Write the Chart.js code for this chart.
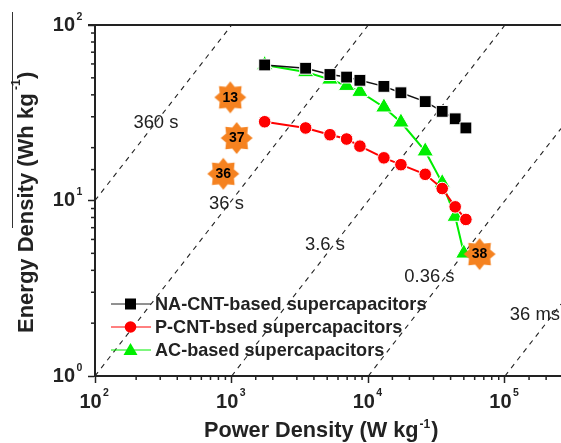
<!DOCTYPE html>
<html><head><meta charset="utf-8">
<style>html,body{margin:0;padding:0;background:#fff}canvas{display:block}</style>
<script src="https://cdn.jsdelivr.net/npm/chart.js@4"></script>
</head><body><canvas id="c" width="561" height="443"></canvas>
<script>
const powerDensity = [1744,3478,5238,6937,8679,13002,17320,26080,34720,43220,51760];
const naCnt = [59.2,56.7,52.2,50.5,48.4,44.7,41.1,36.6,32.2,29.2,25.9];
const pCnt = [28.1,25.9,23.7,22.4,20.4,17.5,16.0,14.1,11.7,9.2,7.8];
const acPower = [1744,3478,5238,6937,8679,13002,17320,26080,34720,43220,50000];
const ac = [59.2,54.0,49.0,45.1,41.7,34.0,27.9,19.1,12.6,8.1,5.0];
const seriesNames = ['NA-CNT-based supercapacitors','P-CNT-bsed supercapacitors','AC-based supercapacitors'];
const starLabels = ['13','37','36','38'];
const starPower = [977,1088,868,65200];
const starEnergy = [38.7,22.7,14.2,4.95];
const line360s = [[100,10],[1000,100]];
const line36s = [[100,1],[10000,100]];
const line3p6s = [[1000,1],[100000,100]];
const line0p36s = [[10000,1],[257000,25.7]];
const line36ms = [[100000,1],[257000,2.57]];
const timeLabels = ['360 s','36 s','3.6 s','0.36 s','36 ms'];
const timeLabelPower = [279,916,4814,27990,165500];
const timeLabelEnergy = [27.7,9.55,5.58,3.66,2.23];
const xMin=100,xMax=257000,yMin=1,yMax=100;

const INK='#222';
const BOLD='"Liberation Sans", Arial, sans-serif';
function xy(p){return p.map(a=>({x:a[0],y:a[1]}));}
function zip(a,b){return a.map((v,i)=>({x:v,y:b[i]}));}
function dashed(p){return {type:'line',data:xy(p),borderColor:'#222',borderWidth:1.1,borderDash:[5,5],pointRadius:0,order:10};}

const star=document.createElement('canvas');star.width=36;star.height=36;
(function(){const g=star.getContext('2d');g.fillStyle='#f58220';g.beginPath();
 for(let i=0;i<16;i++){const r=i%2?11.5:16,a=-Math.PI/2+i*Math.PI/8;const X=18+r*Math.cos(a),Y=18+r*Math.sin(a);i?g.lineTo(X,Y):g.moveTo(X,Y);}
 g.closePath();g.fill();})();

const overlay={id:'overlay',
 afterDraw(ch){
  const g=ch.ctx,X=ch.scales.x,Y=ch.scales.y,A=ch.chartArea;
  g.save();
  g.strokeStyle=INK;g.lineWidth=2;
  g.beginPath();g.moveTo(88,A.top);g.lineTo(561,A.top);g.stroke();
  g.lineWidth=1.5;
  X.ticks.forEach(t=>{if(t.major||t.value===xMax||t.value===xMin)return;const p=X.getPixelForValue(t.value);g.beginPath();g.moveTo(p,A.bottom);g.lineTo(p,A.bottom+4);g.stroke();});
  Y.ticks.forEach(t=>{if(t.major||t.value===yMax||t.value===yMin)return;const p=Y.getPixelForValue(t.value);g.beginPath();g.moveTo(A.left,p);g.lineTo(A.left-4,p);g.stroke();});
  // stray rule beside the y title
  g.lineWidth=1;g.strokeStyle='#333';g.beginPath();g.moveTo(12.5,12);g.lineTo(12.5,228);g.stroke();

  g.fillStyle=INK;g.textBaseline='middle';
  // tick exponents
  g.font='bold 10.5px '+BOLD;g.textAlign='left';
  X.ticks.forEach(t=>{if(t.major){g.fillText(String(Math.round(Math.log10(t.value))),X.getPixelForValue(t.value)+8,393);}});
  Y.ticks.forEach(t=>{if(t.major){g.fillText(String(Math.round(Math.log10(t.value))),76.5,Y.getPixelForValue(t.value)-8);}});

  // axis titles
  g.font='bold 21.7px '+BOLD;g.textAlign='left';
  const xt='Power Density (W kg';g.fillText(xt,204,431);
  let w=g.measureText(xt).width;
  g.font='bold 12px '+BOLD;g.fillText('-1',204+w+1,425);
  const w2=g.measureText('-1').width;
  g.font='bold 21.7px '+BOLD;g.fillText(')',204+w+w2+2,431);
  g.save();g.translate(27,333);g.rotate(-Math.PI/2);
  g.font='bold 22px '+BOLD;
  const yt='Energy Density (Wh kg';g.fillText(yt,0,0);
  g.fillText(')',254,0);
  g.font='bold 12px '+BOLD;g.fillText('-1',243,-10);
  g.restore();

  // iso-time labels
  g.font='18.4px '+BOLD;g.textAlign='center';
  timeLabels.forEach((s,i)=>g.fillText(s,X.getPixelForValue(timeLabelPower[i]),Y.getPixelForValue(timeLabelEnergy[i])));

  // star labels
  g.font='bold 14px '+BOLD;g.fillStyle='#000';
  const sm=ch.getDatasetMeta(ch.data.datasets.length-1);
  sm.data.forEach((e,i)=>g.fillText(starLabels[i],e.x,e.y+.5));

  // legend
  const ly=[304,327,350],col=['#222','#ff0000','#00ee00'];
  seriesNames.forEach((s,i)=>{
   g.strokeStyle=col[i];g.lineWidth=1;g.beginPath();g.moveTo(111,ly[i]);g.lineTo(151,ly[i]);g.stroke();
   g.fillStyle=i==0?'#000':col[i];g.beginPath();
   if(i==0)g.fillRect(125,ly[i]-5.5,11,11);
   if(i==1){g.arc(130.5,ly[i],5.8,0,7);g.fill();}
   if(i==2){g.moveTo(130.5,ly[i]-7);g.lineTo(137.5,ly[i]+5);g.lineTo(123.5,ly[i]+5);g.closePath();g.fill();}
   g.fillStyle=INK;g.font='bold 18.1px '+BOLD;g.textAlign='left';g.fillText(s,155,ly[i]+.5);
  });
  g.restore();
 }};

new Chart(document.getElementById('c'),{
 data:{datasets:[
  dashed(line360s),dashed(line36s),dashed(line3p6s),dashed(line0p36s),dashed(line36ms),
  {type:'line',label:seriesNames[2],data:zip(acPower,ac),borderColor:'#00ee00',backgroundColor:'#00ee00',borderWidth:2,pointStyle:'triangle',pointRadius:9.5,pointBorderColor:'#fff',pointBorderWidth:1,order:5},
  {type:'line',label:seriesNames[0],data:zip(powerDensity,naCnt),borderColor:'#111',backgroundColor:'#000',borderWidth:1.5,pointStyle:'rect',pointRadius:8.4,pointBorderColor:'#fff',pointBorderWidth:1,order:4},
  {type:'line',label:seriesNames[1],data:zip(powerDensity,pCnt),borderColor:'#ff0000',backgroundColor:'#ff0000',borderWidth:2,pointStyle:'circle',pointRadius:6.3,pointBorderColor:'#fff',pointBorderWidth:1,order:3},
  {type:'scatter',data:zip(starPower,starEnergy),pointStyle:star,pointRadius:16,order:1}
 ]},
 options:{responsive:false,animation:false,
  layout:{autoPadding:false,padding:{top:25,right:0,left:0,bottom:0}},
  plugins:{legend:{display:false},tooltip:{enabled:false}},
  scales:{
   x:{type:'logarithmic',min:xMin,max:xMax,position:'bottom',
    afterFit(s){s.height=67;s.paddingRight=0;s.paddingLeft=0;},
    border:{color:INK,width:2},
    grid:{drawOnChartArea:false,drawTicks:true,tickLength:7,tickWidth:1.5,tickColor:c=>c.tick&&c.tick.major?INK:'rgba(0,0,0,0)'},
    ticks:{autoSkip:false,maxRotation:0,labelOffset:-4.5,padding:7,color:INK,font:{family:BOLD,size:20,weight:'bold'},callback(v){return [2,3,4,5].includes(Math.log10(v))?'10':'';}}},
   y:{type:'logarithmic',min:yMin,max:yMax,position:'left',
    afterFit(s){s.width=95;s.paddingTop=0;s.paddingBottom=0;},
    border:{color:INK,width:2},
    grid:{drawOnChartArea:false,drawTicks:true,tickLength:7,tickWidth:1.5,tickColor:c=>c.tick&&c.tick.major?INK:'rgba(0,0,0,0)'},
    ticks:{autoSkip:false,padding:13,color:INK,font:{family:BOLD,size:20,weight:'bold'},callback(v){return [0,1,2].includes(Math.log10(v))?'10':'';}}}
  }},
 plugins:[overlay]
});
</script></body></html>
